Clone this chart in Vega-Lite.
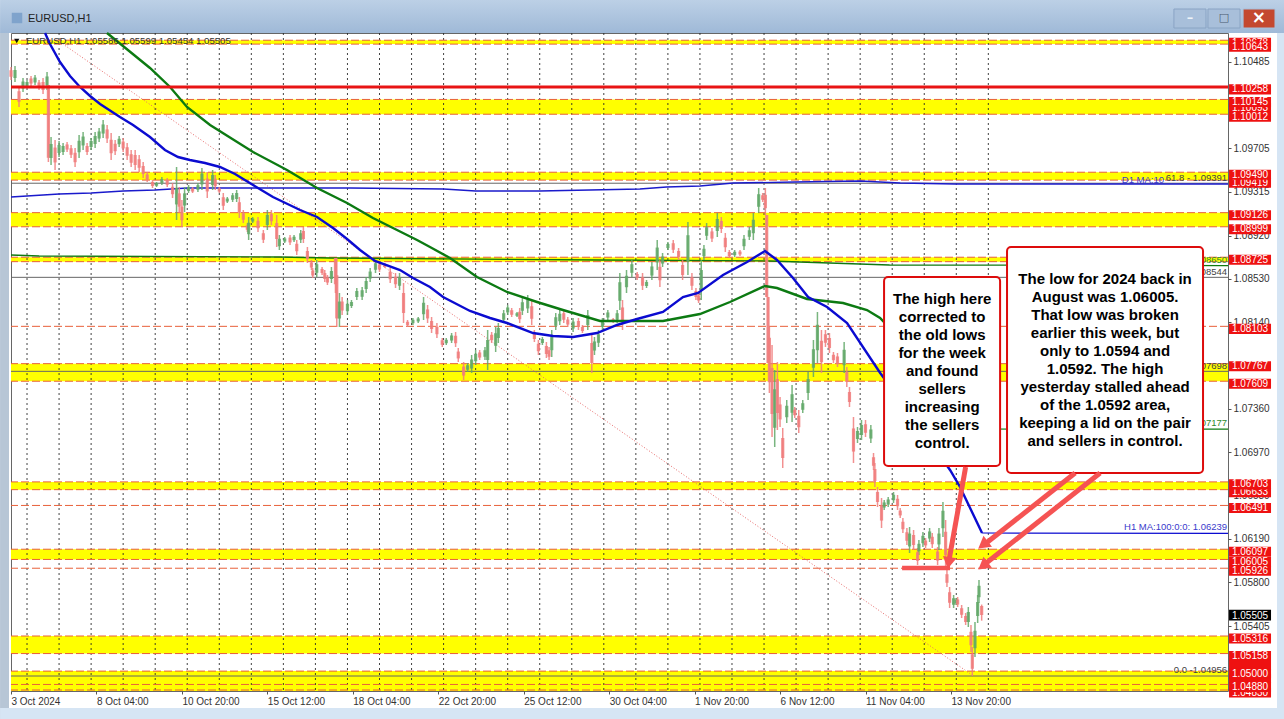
{"$schema":"https://vega.github.io/schema/vega-lite/v6.json","width":1217,"height":658,"autosize":{"type":"none"},"padding":{"left":11,"top":33,"right":56,"bottom":28},"background":"white","view":{"stroke":"#666","strokeWidth":1},"config":{"text":{"font":"Liberation Sans"},"axis":{"grid":false}},"data":{"values":[{}]},
"datasets":{
"bands":[{"a":1.10678,"z":1.10643},{"a":1.10145,"z":1.10012},{"a":1.0949,"z":1.09419},{"a":1.09126,"z":1.08999},{"a":1.08725,"z":1.08685},{"a":1.07767,"z":1.07609},{"a":1.06703,"z":1.06633},{"a":1.06097,"z":1.06005},{"a":1.05316,"z":1.05158},{"a":1.05,"z":1.04821}],
"levels":[{"p":1.10678},{"p":1.10643},{"p":1.10145},{"p":1.10012},{"p":1.0949},{"p":1.09419},{"p":1.09126},{"p":1.08999},{"p":1.08725},{"p":1.08685},{"p":1.08103},{"p":1.07767},{"p":1.07609},{"p":1.06703},{"p":1.06633},{"p":1.06491},{"p":1.06097},{"p":1.06005},{"p":1.05926},{"p":1.05316},{"p":1.05158},{"p":1.05},{"p":1.0488},{"p":1.0483}],
"grid":[{"b":12},{"b":36},{"b":60},{"b":84},{"b":108},{"b":132},{"b":156},{"b":180},{"b":204},{"b":228},{"b":252},{"b":276},{"b":300},{"b":324},{"b":348},{"b":372},{"b":396},{"b":420},{"b":444},{"b":468},{"b":492},{"b":516},{"b":540},{"b":564},{"b":588},{"b":612},{"b":636},{"b":660},{"b":684},{"b":708},{"b":732}],
"thin":[{"p":1.09391},{"p":1.08544},{"p":1.07698},{"p":1.04956}],
"fib":[{"b":36.7,"p":1.10662},{"b":719.8,"p":1.04965}],
"d1blue":[{"b":0,"p":1.09267},{"b":12,"p":1.09276},{"b":36,"p":1.09294},{"b":60,"p":1.09303},{"b":84,"p":1.09321},{"b":108,"p":1.0933},{"b":132,"p":1.09348},{"b":254,"p":1.09348},{"b":324,"p":1.09339},{"b":348,"p":1.09321},{"b":396,"p":1.09321},{"b":471,"p":1.09339},{"b":491,"p":1.09357},{"b":516,"p":1.09366},{"b":541,"p":1.09393},{"b":587,"p":1.09402},{"b":636,"p":1.09411},{"b":666,"p":1.09393},{"b":707,"p":1.09384},{"b":911.5,"p":1.09384}],
"d1green":[{"b":0,"p":1.08745},{"b":21,"p":1.08736},{"b":201,"p":1.08727},{"b":239,"p":1.08718},{"b":441,"p":1.087},{"b":568,"p":1.08691},{"b":613,"p":1.08673},{"b":658,"p":1.08655},{"b":911.5,"p":1.0865}],
"flatBlue":[{"b":727.3,"p":1.06243},{"b":911.5,"p":1.06239}],
"flatGreen":[{"b":729.5,"p":1.07179},{"b":911.5,"p":1.07177}],
"ma100":[{"b":25.5,"p":1.10743},{"b":29.2,"p":1.10644},{"b":36.7,"p":1.10482},{"b":44.2,"p":1.10356},{"b":51.7,"p":1.10257},{"b":59.2,"p":1.10176},{"b":66.7,"p":1.10104},{"b":81.6,"p":1.09987},{"b":91.4,"p":1.09915},{"b":104.1,"p":1.09807},{"b":115.3,"p":1.0969},{"b":125.1,"p":1.09627},{"b":134,"p":1.096},{"b":145.3,"p":1.09573},{"b":156.5,"p":1.09537},{"b":167.8,"p":1.09474},{"b":181.3,"p":1.09375},{"b":196.2,"p":1.09267},{"b":216.5,"p":1.0915},{"b":229.2,"p":1.09087},{"b":241.2,"p":1.08988},{"b":251.7,"p":1.08889},{"b":261.4,"p":1.0879},{"b":272.6,"p":1.08691},{"b":291.4,"p":1.0861},{"b":301.1,"p":1.08538},{"b":313.8,"p":1.08457},{"b":323.6,"p":1.08367},{"b":343.8,"p":1.08241},{"b":358.8,"p":1.08178},{"b":371.5,"p":1.08133},{"b":391,"p":1.08043},{"b":406,"p":1.08016},{"b":421,"p":1.08007},{"b":438.9,"p":1.08043},{"b":453.9,"p":1.08115},{"b":468.9,"p":1.08169},{"b":488.3,"p":1.08232},{"b":503.3,"p":1.08367},{"b":514.6,"p":1.08403},{"b":533.3,"p":1.08565},{"b":551.3,"p":1.08682},{"b":564.7,"p":1.08781},{"b":573.7,"p":1.087},{"b":585.7,"p":1.08538},{"b":597,"p":1.08367},{"b":611.2,"p":1.08277},{"b":626.2,"p":1.08133},{"b":651,"p":1.07683},{"b":677,"p":1.0726},{"b":703.3,"p":1.0681},{"b":710.8,"p":1.06657},{"b":727.3,"p":1.06243}],
"ma200":[{"b":71.9,"p":1.10743},{"b":104.1,"p":1.10428},{"b":119.1,"p":1.10257},{"b":131.8,"p":1.10077},{"b":149.1,"p":1.09915},{"b":181.3,"p":1.09672},{"b":206.7,"p":1.0951},{"b":229.2,"p":1.09348},{"b":251.7,"p":1.09213},{"b":271.1,"p":1.09078},{"b":304.1,"p":1.0888},{"b":313.8,"p":1.08817},{"b":328.8,"p":1.08718},{"b":349,"p":1.08547},{"b":371.5,"p":1.08412},{"b":394,"p":1.08322},{"b":413.4,"p":1.0825},{"b":441.2,"p":1.08151},{"b":463.6,"p":1.08151},{"b":488.3,"p":1.08151},{"b":516,"p":1.08214},{"b":538.5,"p":1.08322},{"b":564.7,"p":1.08466},{"b":573.7,"p":1.08448},{"b":596.2,"p":1.08349},{"b":623.2,"p":1.08313},{"b":641.1,"p":1.0825},{"b":650.9,"p":1.08178},{"b":729.5,"p":1.07179}],
"candles":[
{"b":0,"h":1.10437,"l":1.1032,"o":1.10408,"c":1.10349},{"b":3,"h":1.10446,"l":1.10302,"o":1.10338,"c":1.1041},{"b":6,"h":1.10266,"l":1.10077,"o":1.10219,"c":1.10124},{"b":9,"h":1.10338,"l":1.10212,"o":1.10244,"c":1.10306},{"b":12,"h":1.1032,"l":1.10248,"o":1.10266,"c":1.10302},{"b":15,"h":1.10356,"l":1.10266,"o":1.10334,"c":1.10288},{"b":18,"h":1.10365,"l":1.10275,"o":1.10298,"c":1.10342},{"b":21,"h":1.1032,"l":1.1023,"o":1.10298,"c":1.10252},{"b":24,"h":1.10338,"l":1.10194,"o":1.10302,"c":1.1023},{"b":27,"h":1.10392,"l":1.1023,"o":1.1027,"c":1.10352},{"b":28,"h":1.10275,"l":1.09582,"o":1.10275,"c":1.0962},
{"b":30,"h":1.09807,"l":1.09555,"o":1.09618,"c":1.09744},{"b":33,"h":1.0978,"l":1.0951,"o":1.09712,"c":1.09578},{"b":36,"h":1.09771,"l":1.09627,"o":1.09663,"c":1.09735},{"b":39,"h":1.09753,"l":1.09645,"o":1.09672,"c":1.09726},{"b":42,"h":1.09762,"l":1.09672,"o":1.0974,"c":1.09694},{"b":45,"h":1.09735,"l":1.09618,"o":1.09706,"c":1.09647},{"b":48,"h":1.09708,"l":1.09537,"o":1.09665,"c":1.0958},{"b":51,"h":1.09825,"l":1.09618,"o":1.0967,"c":1.09773},{"b":54,"h":1.09852,"l":1.0969,"o":1.09731,"c":1.09811},{"b":57,"h":1.09753,"l":1.09645,"o":1.09726,"c":1.09672},{"b":60,"h":1.09798,"l":1.0969,"o":1.09717,"c":1.09771},{"b":63,"h":1.09852,"l":1.09708,"o":1.09744,"c":1.09816},{"b":66,"h":1.09888,"l":1.09762,"o":1.09793,"c":1.09857},{"b":69,"h":1.0996,"l":1.09798,"o":1.09838,"c":1.0992},{"b":72,"h":1.09915,"l":1.09753,"o":1.09875,"c":1.09793},{"b":75,"h":1.09843,"l":1.096,"o":1.09782,"c":1.09661},{"b":78,"h":1.0978,"l":1.09645,"o":1.09746,"c":1.09679},{"b":81,"h":1.09816,"l":1.09717,"o":1.09742,"c":1.09791},{"b":84,"h":1.09798,"l":1.09672,"o":1.09766,"c":1.09704},{"b":87,"h":1.09753,"l":1.096,"o":1.09715,"c":1.09638},{"b":90,"h":1.0969,"l":1.09537,"o":1.09652,"c":1.09575},{"b":93,"h":1.0969,"l":1.0951,"o":1.09645,"c":1.09555},{"b":96,"h":1.09645,"l":1.09492,"o":1.09607,"c":1.0953},{"b":99,"h":1.09582,"l":1.09438,"o":1.09546,"c":1.09474},{"b":102,"h":1.09492,"l":1.09402,"o":1.0947,"c":1.09424},{"b":106,"h":1.0942,"l":1.09348,"o":1.09402,"c":1.09366},{"b":109,"h":1.09402,"l":1.09357,"o":1.09368,"c":1.09391},{"b":113,"h":1.09447,"l":1.09375,"o":1.09393,"c":1.09429},{"b":117,"h":1.09438,"l":1.09357,"o":1.09418,"c":1.09377},{"b":121,"h":1.09393,"l":1.09258,"o":1.09359,"c":1.09292},{"b":124,"h":1.09537,"l":1.0906,"o":1.092,"c":1.0935},{"b":126,"h":1.09357,"l":1.09123,"o":1.093,"c":1.0918},{"b":128,"h":1.0924,"l":1.08997,"o":1.0918,"c":1.09058},{"b":130,"h":1.09357,"l":1.09132,"o":1.0919,"c":1.093},{"b":133,"h":1.09375,"l":1.09303,"o":1.09321,"c":1.09357},{"b":136,"h":1.09357,"l":1.09303,"o":1.09344,"c":1.09316},{"b":140,"h":1.09393,"l":1.09312,"o":1.09332,"c":1.09373},{"b":143,"h":1.09528,"l":1.0933,"o":1.0938,"c":1.09478},{"b":147,"h":1.09492,"l":1.09258,"o":1.09433,"c":1.09317},{"b":151,"h":1.0951,"l":1.0933,"o":1.09375,"c":1.09465},{"b":153,"h":1.09465,"l":1.0933,"o":1.09431,"c":1.09364},{"b":156,"h":1.09357,"l":1.09303,"o":1.09344,"c":1.09316},{"b":159,"h":1.09303,"l":1.0915,"o":1.09265,"c":1.09188},{"b":162,"h":1.09267,"l":1.09213,"o":1.09226,"c":1.09253},{"b":166,"h":1.09303,"l":1.09222,"o":1.09242,"c":1.09283},{"b":169,"h":1.0933,"l":1.09222,"o":1.09249,"c":1.09303},{"b":171,"h":1.09267,"l":1.09078,"o":1.0922,"c":1.09125},{"b":174,"h":1.0915,"l":1.09033,"o":1.09121,"c":1.09062},{"b":177,"h":1.09033,"l":1.08952,"o":1.09013,"c":1.08972},{"b":178,"h":1.09087,"l":1.0888,"o":1.08932,"c":1.09035},{"b":181,"h":1.09087,"l":1.09033,"o":1.09046,"c":1.09073},{"b":185,"h":1.09087,"l":1.08952,"o":1.09053,"c":1.08986},{"b":189,"h":1.0897,"l":1.08853,"o":1.08941,"c":1.08882},{"b":192,"h":1.0915,"l":1.0897,"o":1.09015,"c":1.09105},{"b":195,"h":1.0915,"l":1.09015,"o":1.09116,"c":1.09049},{"b":199,"h":1.09105,"l":1.08817,"o":1.09033,"c":1.08889},{"b":201,"h":1.08925,"l":1.0879,"o":1.08824,"c":1.08891},{"b":205,"h":1.08907,"l":1.08853,"o":1.08866,"c":1.08894},{"b":209,"h":1.08925,"l":1.08835,"o":1.08902,"c":1.08858},{"b":212,"h":1.08925,"l":1.08862,"o":1.08878,"c":1.08909},{"b":214,"h":1.0888,"l":1.08745,"o":1.08846,"c":1.08779},{"b":217,"h":1.0897,"l":1.08853,"o":1.08882,"c":1.08941},{"b":219,"h":1.08997,"l":1.08853,"o":1.08961,"c":1.08889},{"b":222,"h":1.08817,"l":1.08673,"o":1.08781,"c":1.08709},{"b":225,"h":1.087,"l":1.0861,"o":1.08678,"c":1.08632},{"b":226,"h":1.08628,"l":1.08538,"o":1.08606,"c":1.0856},{"b":229,"h":1.087,"l":1.08547,"o":1.08585,"c":1.08662},{"b":233,"h":1.08637,"l":1.08565,"o":1.08619,"c":1.08583},{"b":235,"h":1.0861,"l":1.08502,"o":1.08583,"c":1.08529},{"b":237,"h":1.08565,"l":1.08475,"o":1.08543,"c":1.08497},{"b":240,"h":1.08637,"l":1.08493,"o":1.08529,"c":1.08601},{"b":243,"h":1.08718,"l":1.08403,"o":1.08718,"c":1.08482},{"b":244,"h":1.08718,"l":1.08097,"o":1.08563,"c":1.08174},{"b":246,"h":1.08403,"l":1.08097,"o":1.08173,"c":1.08326},{"b":248,"h":1.08367,"l":1.08205,"o":1.08326,"c":1.08245},{"b":252,"h":1.0834,"l":1.08205,"o":1.08239,"c":1.08306},{"b":255,"h":1.0834,"l":1.08268,"o":1.08286,"c":1.08322},{"b":259,"h":1.08448,"l":1.0834,"o":1.08367,"c":1.08421},{"b":263,"h":1.08457,"l":1.0834,"o":1.08369,"c":1.08428},{"b":266,"h":1.08547,"l":1.08403,"o":1.08439,"c":1.08511},{"b":269,"h":1.08628,"l":1.08502,"o":1.08533,"c":1.08596},{"b":273,"h":1.087,"l":1.08583,"o":1.08612,"c":1.08671},{"b":276,"h":1.08682,"l":1.08592,"o":1.0866,"c":1.08614},{"b":280,"h":1.08673,"l":1.08628,"o":1.08662,"c":1.08639},{"b":284,"h":1.08628,"l":1.08493,"o":1.08594,"c":1.08527},{"b":288,"h":1.08583,"l":1.08448,"o":1.08549,"c":1.08482},{"b":291,"h":1.08583,"l":1.0843,"o":1.08468,"c":1.08545},{"b":294,"h":1.08493,"l":1.08133,"o":1.08403,"c":1.08223},{"b":297,"h":1.0816,"l":1.08097,"o":1.08144,"c":1.08113},{"b":301,"h":1.08178,"l":1.08115,"o":1.08131,"c":1.08162},{"b":305,"h":1.08187,"l":1.08133,"o":1.08147,"c":1.08174},{"b":309,"h":1.08367,"l":1.0816,"o":1.08212,"c":1.08315},{"b":312,"h":1.08295,"l":1.08133,"o":1.08255,"c":1.08174},{"b":315,"h":1.08187,"l":1.08043,"o":1.08151,"c":1.08079},{"b":319,"h":1.08133,"l":1.07998,"o":1.08099,"c":1.08032},{"b":323,"h":1.07998,"l":1.07917,"o":1.07978,"c":1.07937},{"b":326,"h":1.07998,"l":1.07935,"o":1.07951,"c":1.07982},{"b":330,"h":1.08043,"l":1.07953,"o":1.07975,"c":1.08021},{"b":333,"h":1.08052,"l":1.07917,"o":1.08018,"c":1.07951},{"b":335,"h":1.07908,"l":1.07782,"o":1.07876,"c":1.07814},{"b":339,"h":1.07782,"l":1.0762,"o":1.07741,"c":1.0766},{"b":342,"h":1.07773,"l":1.07692,"o":1.07712,"c":1.07753},{"b":345,"h":1.07845,"l":1.07683,"o":1.07723,"c":1.07805},{"b":348,"h":1.0789,"l":1.07755,"o":1.07789,"c":1.07856},{"b":351,"h":1.0789,"l":1.078,"o":1.07868,"c":1.07822},{"b":355,"h":1.07917,"l":1.078,"o":1.07829,"c":1.07888},{"b":357,"h":1.0807,"l":1.0771,"o":1.078,"c":1.0798},{"b":360,"h":1.08052,"l":1.07953,"o":1.08027,"c":1.07978},{"b":363,"h":1.08097,"l":1.07872,"o":1.07928,"c":1.08041},{"b":365,"h":1.08133,"l":1.07953,"o":1.07998,"c":1.08088},{"b":369,"h":1.0825,"l":1.08133,"o":1.08162,"c":1.08221},{"b":372,"h":1.08295,"l":1.08205,"o":1.08228,"c":1.08273},{"b":375,"h":1.08268,"l":1.08187,"o":1.08248,"c":1.08207},{"b":379,"h":1.08232,"l":1.08187,"o":1.08198,"c":1.08221},{"b":381,"h":1.08268,"l":1.08133,"o":1.08234,"c":1.08167},{"b":383,"h":1.08358,"l":1.08205,"o":1.08243,"c":1.0832},{"b":387,"h":1.08385,"l":1.08223,"o":1.08264,"c":1.08345},{"b":390,"h":1.0834,"l":1.08115,"o":1.08284,"c":1.08171},{"b":392,"h":1.0807,"l":1.07962,"o":1.08043,"c":1.07989},{"b":395,"h":1.0798,"l":1.07845,"o":1.07946,"c":1.07879},{"b":398,"h":1.08007,"l":1.07935,"o":1.07953,"c":1.07989},{"b":401,"h":1.07962,"l":1.07818,"o":1.07926,"c":1.07854},{"b":403,"h":1.07917,"l":1.078,"o":1.07888,"c":1.07829},{"b":405,"h":1.0807,"l":1.07827,"o":1.07888,"c":1.08009},{"b":408,"h":1.08223,"l":1.0807,"o":1.08108,"c":1.08185},{"b":411,"h":1.0825,"l":1.08115,"o":1.08149,"c":1.08216},{"b":414,"h":1.0825,"l":1.08133,"o":1.08221,"c":1.08162},{"b":417,"h":1.08187,"l":1.08097,"o":1.08164,"c":1.08119},{"b":421,"h":1.08178,"l":1.08052,"o":1.08083,"c":1.08146},{"b":425,"h":1.08178,"l":1.0807,"o":1.08151,"c":1.08097},{"b":428,"h":1.08115,"l":1.08043,"o":1.08097,"c":1.08061},{"b":432,"h":1.0825,"l":1.0807,"o":1.08115,"c":1.08205},{"b":435,"h":1.08043,"l":1.07683,"o":1.07953,"c":1.07773},{"b":437,"h":1.08007,"l":1.07845,"o":1.07885,"c":1.07967},{"b":440,"h":1.0807,"l":1.07917,"o":1.07955,"c":1.08032},{"b":443,"h":1.08178,"l":1.0807,"o":1.08097,"c":1.08151},{"b":447,"h":1.0825,"l":1.0816,"o":1.08182,"c":1.08228},{"b":451,"h":1.08178,"l":1.08133,"o":1.08167,"c":1.08144},{"b":454,"h":1.0825,"l":1.08133,"o":1.08162,"c":1.08221},{"b":456,"h":1.08583,"l":1.0825,"o":1.08333,"c":1.085},{"b":458,"h":1.0834,"l":1.0807,"o":1.08273,"c":1.08138},{"b":461,"h":1.0861,"l":1.08403,"o":1.08455,"c":1.08558},{"b":465,"h":1.087,"l":1.08547,"o":1.08585,"c":1.08662},{"b":469,"h":1.08592,"l":1.0852,"o":1.08574,"c":1.08538},{"b":473,"h":1.08583,"l":1.0843,"o":1.08545,"c":1.08468},{"b":476,"h":1.0852,"l":1.08448,"o":1.08466,"c":1.08502},{"b":480,"h":1.08682,"l":1.0852,"o":1.0856,"c":1.08642},{"b":484,"h":1.0888,"l":1.0861,"o":1.08677,"c":1.08812},{"b":486,"h":1.087,"l":1.08457,"o":1.08639,"c":1.08518},{"b":488,"h":1.08763,"l":1.08637,"o":1.08668,"c":1.08731},{"b":492,"h":1.08862,"l":1.0879,"o":1.08808,"c":1.08844},{"b":496,"h":1.0888,"l":1.08763,"o":1.08851,"c":1.08792},{"b":500,"h":1.08808,"l":1.087,"o":1.08781,"c":1.08727},{"b":503,"h":1.087,"l":1.0852,"o":1.08655,"c":1.08565},{"b":507,"h":1.09042,"l":1.08565,"o":1.08684,"c":1.08923},{"b":510,"h":1.08583,"l":1.0843,"o":1.08545,"c":1.08468},{"b":513,"h":1.08448,"l":1.0834,"o":1.08421,"c":1.08367},{"b":515,"h":1.08403,"l":1.08313,"o":1.08381,"c":1.08335},{"b":517,"h":1.087,"l":1.0834,"o":1.0843,"c":1.0861},{"b":519,"h":1.08835,"l":1.087,"o":1.08734,"c":1.08801},{"b":521,"h":1.09033,"l":1.0888,"o":1.08918,"c":1.08995},{"b":525,"h":1.08988,"l":1.08862,"o":1.08957,"c":1.08893},{"b":529,"h":1.09123,"l":1.08907,"o":1.08961,"c":1.09069},{"b":532,"h":1.09087,"l":1.08943,"o":1.09051,"c":1.08979},{"b":535,"h":1.08943,"l":1.08772,"o":1.089,"c":1.08815},{"b":538,"h":1.0879,"l":1.08718,"o":1.08772,"c":1.08736},{"b":542,"h":1.0879,"l":1.08727,"o":1.08743,"c":1.08774},{"b":546,"h":1.0879,"l":1.08736,"o":1.08776,"c":1.0875},{"b":549,"h":1.08925,"l":1.0879,"o":1.08824,"c":1.08891},{"b":553,"h":1.08997,"l":1.0888,"o":1.08909,"c":1.08968},{"b":556,"h":1.09123,"l":1.0888,"o":1.08941,"c":1.09062},{"b":560,"h":1.09348,"l":1.09123,"o":1.09179,"c":1.09292},{"b":563,"h":1.09303,"l":1.09222,"o":1.09283,"c":1.09242},{"b":565,"h":1.09348,"l":1.09105,"o":1.09287,"c":1.09166},{"b":566,"h":1.09105,"l":1.08367,"o":1.09105,"c":1.08367},{"b":567,"h":1.08367,"l":1.07773,"o":1.08367,"c":1.07773},{"b":568,"h":1.08097,"l":1.07503,"o":1.08,"c":1.076},{"b":570,"h":1.07935,"l":1.07107,"o":1.07728,"c":1.07314},{"b":572,"h":1.0771,"l":1.07017,"o":1.0719,"c":1.07537},{"b":574,"h":1.07782,"l":1.0717,"o":1.07629,"c":1.07323},{"b":576,"h":1.07467,"l":1.07197,"o":1.074,"c":1.07265},{"b":578,"h":1.07188,"l":1.06828,"o":1.07098,"c":1.06918},{"b":581,"h":1.0744,"l":1.07233,"o":1.07285,"c":1.07388},{"b":585,"h":1.07575,"l":1.07242,"o":1.07325,"c":1.07492},{"b":587,"h":1.07377,"l":1.07278,"o":1.07352,"c":1.07303},{"b":590,"h":1.0735,"l":1.07143,"o":1.07298,"c":1.07195},{"b":593,"h":1.0744,"l":1.07323,"o":1.07352,"c":1.07411},{"b":597,"h":1.07692,"l":1.0744,"o":1.07503,"c":1.07629},{"b":601,"h":1.0798,"l":1.07647,"o":1.0773,"c":1.07897},{"b":604,"h":1.08232,"l":1.07773,"o":1.07888,"c":1.08117},{"b":607,"h":1.0807,"l":1.07683,"o":1.07973,"c":1.0778},{"b":610,"h":1.0807,"l":1.07917,"o":1.08032,"c":1.07955},{"b":613,"h":1.08043,"l":1.07863,"o":1.07998,"c":1.07908},{"b":616,"h":1.07872,"l":1.07773,"o":1.07847,"c":1.07798},{"b":619,"h":1.07863,"l":1.07737,"o":1.07832,"c":1.07768},{"b":624,"h":1.07962,"l":1.07683,"o":1.07753,"c":1.07892},{"b":626,"h":1.07737,"l":1.07557,"o":1.07692,"c":1.07602},{"b":628,"h":1.07557,"l":1.07377,"o":1.07512,"c":1.07422},{"b":631,"h":1.07287,"l":1.06873,"o":1.07184,"c":1.06976},{"b":634,"h":1.07197,"l":1.07053,"o":1.07089,"c":1.07161},{"b":637,"h":1.0726,"l":1.0708,"o":1.07125,"c":1.07215},{"b":640,"h":1.0726,"l":1.07107,"o":1.07222,"c":1.07145},{"b":644,"h":1.07215,"l":1.07053,"o":1.07093,"c":1.07175},{"b":646,"h":1.06963,"l":1.0681,"o":1.06925,"c":1.06848},{"b":647,"h":1.06873,"l":1.06657,"o":1.06819,"c":1.06711},{"b":649,"h":1.06657,"l":1.06477,"o":1.06612,"c":1.06522},{"b":652,"h":1.06558,"l":1.06288,"o":1.06491,"c":1.06355},{"b":654,"h":1.0654,"l":1.0645,"o":1.06472,"c":1.06518},{"b":657,"h":1.06567,"l":1.06477,"o":1.06499,"c":1.06545},{"b":661,"h":1.06612,"l":1.06513,"o":1.06538,"c":1.06587},{"b":664,"h":1.06585,"l":1.0645,"o":1.06551,"c":1.06484},{"b":666,"h":1.06468,"l":1.06378,"o":1.06445,"c":1.06401},{"b":668,"h":1.06378,"l":1.06243,"o":1.06344,"c":1.06277},{"b":671,"h":1.06288,"l":1.06135,"o":1.0625,"c":1.06173},{"b":673,"h":1.06297,"l":1.06063,"o":1.06122,"c":1.06238},{"b":676,"h":1.0627,"l":1.0609,"o":1.06225,"c":1.06135},{"b":679,"h":1.06108,"l":1.05955,"o":1.0607,"c":1.05993},{"b":680,"h":1.0618,"l":1.06045,"o":1.06079,"c":1.06146},{"b":683,"h":1.06252,"l":1.06117,"o":1.06151,"c":1.06218},{"b":685,"h":1.06198,"l":1.06108,"o":1.06175,"c":1.06131},{"b":688,"h":1.06288,"l":1.06162,"o":1.06193,"c":1.06257},{"b":690,"h":1.06243,"l":1.06108,"o":1.06209,"c":1.06142},{"b":694,"h":1.06117,"l":1.05955,"o":1.06076,"c":1.05995},{"b":695,"h":1.06288,"l":1.0609,"o":1.0614,"c":1.06238},{"b":698,"h":1.06522,"l":1.06207,"o":1.06286,"c":1.06443},{"b":700,"h":1.0636,"l":1.05937,"o":1.06254,"c":1.06043},{"b":701,"h":1.0591,"l":1.05757,"o":1.05872,"c":1.05795},{"b":703,"h":1.05757,"l":1.05568,"o":1.0571,"c":1.05615},{"b":706,"h":1.05685,"l":1.05568,"o":1.05597,"c":1.05656},{"b":708,"h":1.05658,"l":1.05595,"o":1.05611,"c":1.05642},{"b":709,"h":1.05667,"l":1.05577,"o":1.05645,"c":1.05599},{"b":712,"h":1.05595,"l":1.05478,"o":1.05566,"c":1.05507},{"b":715,"h":1.05523,"l":1.05415,"o":1.05496,"c":1.05442},{"b":717,"h":1.05577,"l":1.05397,"o":1.05442,"c":1.05532},{"b":719,"h":1.05415,"l":1.05172,"o":1.05354,"c":1.05233},{"b":720,"h":1.05217,"l":1.04956,"o":1.05152,"c":1.05021},{"b":722,"h":1.05442,"l":1.05127,"o":1.05206,"c":1.05363},{"b":724,"h":1.05685,"l":1.05433,"o":1.05496,"c":1.05622},{"b":725,"h":1.0582,"l":1.05613,"o":1.05665,"c":1.05768},{"b":727,"h":1.05599,"l":1.05454,"o":1.05586,"c":1.05505}],
"notes":[{"t":"61.8 - 1.09391","b":910.8,"p":1.09438,"k":"gray"},{"t":"1.08650","b":910.8,"p":1.087,"k":"green"},{"t":"1.08544","b":910.8,"p":1.08592,"k":"gray"},{"t":"1.07698","b":910.8,"p":1.07746,"k":"gray"},{"t":"1.07177","b":910.8,"p":1.07233,"k":"green"},{"t":"H1 MA:100:0:0: 1.06239","b":910.8,"p":1.06297,"k":"blue"},{"t":"0.0 -1.04956","b":910.8,"p":1.0501,"k":"gray"},{"t":"D1 MA:10","b":863.6,"p":1.0942,"k":"blue"}],
"boxes":[{"b0":653.9,"b1":740.8,"a":1.08547,"z":1.06846},{"b0":746,"b1":892.8,"a":1.08817,"z":1.06783}],
"boxtext":[{"b":697.4,"p":1.08349,"t":"The high here\ncorrected to\nthe old lows\nfor the week\nand found\nsellers\nincreasing\nthe sellers\ncontrol."},{"b":819.4,"p":1.08529,"t":"The low for 2024 back in\nAugust was 1.06005.\nThat low was broken\nearlier this week, but\nonly to 1.0594 and\n1.0592. The high\nyesterday stalled ahead\nof the 1.0592 area,\nkeeping a lid on the pair\nand sellers in control."}],
"arrows":[{"id":"a","b":715,"p":1.06837},{"id":"a","b":702.6,"p":1.06},{"id":"b","b":797,"p":1.06783},{"id":"b","b":729.5,"p":1.06144},{"id":"c","b":815.7,"p":1.06783},{"id":"c","b":729.5,"p":1.05964}],
"shelf":[{"b":667.4,"p":1.05928},{"b":703.3,"p":1.05928}],
"heads":[{"b":702.6,"p":1.05991,"heading":190},{"b":729.2,"p":1.06147,"heading":232},{"b":729.2,"p":1.05958,"heading":232}],
"tagsBlank":[{"p":1.05075},{"p":1.04956}],
"tagsBack":[{"p":1.10678},{"p":1.10093},{"p":1.09419},{"p":1.06633},{"p":1.06005},{"p":1.0483}],
"tagsFront":[{"p":1.10643},{"p":1.10258},{"p":1.10145},{"p":1.10012},{"p":1.0949},{"p":1.09126},{"p":1.08999},{"p":1.08725},{"p":1.08103},{"p":1.07767},{"p":1.07609},{"p":1.06703},{"p":1.06491},{"p":1.06097},{"p":1.05926},{"p":1.05316},{"p":1.05158},{"p":1.05},{"p":1.0488}],
"tagsLast":[{"p":1.05505}]
},
"layer":[
{"mark":{"type":"rule","opacity":0},"encoding":{"x":{"datum":0,"type":"quantitative","scale":{"domain":[0,911.5]},"axis":{"title":null,"values":[0,64,128,192,256,320,384,448,512,576,640,704],"labelExpr":"['3 Oct 2024','8 Oct 04:00','10 Oct 20:00','15 Oct 12:00','18 Oct 04:00','22 Oct 20:00','25 Oct 12:00','30 Oct 04:00','1 Nov 20:00','6 Nov 12:00','11 Nov 04:00','13 Nov 20:00'][datum.value/64]","labelAlign":"left","labelFontSize":10,"labelFont":"Liberation Sans","labelColor":"#333","tickSize":3,"tickColor":"#555","domain":false,"grid":false,"labelFlush":false,"labelOverlap":false,"labelPadding":2}},"y":{"datum":1.07,"type":"quantitative","scale":{"domain":[1.04821,1.10743]},"axis":{"title":null,"orient":"right","values":[1.10485,1.09705,1.09315,1.0892,1.0853,1.0814,1.0736,1.0697,1.0658,1.0619,1.058,1.05405],"format":".5f","labelFontSize":10,"labelFont":"Liberation Sans","labelColor":"#333","tickSize":3,"tickColor":"#555","domain":false,"grid":false,"labelOverlap":false,"labelPadding":2,"labelFlush":false}}}},
{"mark":{"type":"rect","color":{"gradient":"linear","x1":0,"y1":0,"x2":0,"y2":1,"stops":[{"offset":0,"color":"#bcd0e6"},{"offset":1,"color":"#9fb9d7"}]}},"encoding":{"x":{"datum":-8.2,"scale":{"domain":[0,911.5]}},"x2":{"datum":953.5},"y":{"datum":1.1104,"scale":{"domain":[1.04821,1.10743]}},"y2":{"datum":1.10743}}},
{"mark":{"type":"rect","color":"#b7c6d6"},"encoding":{"x":{"datum":-8.2,"scale":{"domain":[0,911.5]}},"x2":{"datum":-1.5},"y":{"datum":1.10743,"scale":{"domain":[1.04821,1.10743]}},"y2":{"datum":1.0457}}},
{"mark":{"type":"rect","color":"#d6e5f4"},"encoding":{"x":{"datum":948.2,"scale":{"domain":[0,911.5]}},"x2":{"datum":953.5},"y":{"datum":1.10743,"scale":{"domain":[1.04821,1.10743]}},"y2":{"datum":1.0457}}},
{"mark":{"type":"rect","color":"#d6e5f4"},"encoding":{"x":{"datum":-8.2,"scale":{"domain":[0,911.5]}},"x2":{"datum":953.5},"y":{"datum":1.04668,"scale":{"domain":[1.04821,1.10743]}},"y2":{"datum":1.0457}}},
{"mark":{"type":"point","shape":"square","filled":true,"size":110,"opacity":1,"color":"#7fa3cc"},"encoding":{"x":{"datum":4.5,"scale":{"domain":[0,911.5]}},"y":{"datum":1.10878,"scale":{"domain":[1.04821,1.10743]}}}},
{"mark":{"type":"text","align":"left","fontSize":11,"color":"#222"},"encoding":{"x":{"datum":12.7,"scale":{"domain":[0,911.5]}},"y":{"datum":1.10872,"scale":{"domain":[1.04821,1.10743]}},"text":{"value":"EURUSD,H1"}}},
{"mark":{"type":"rect","color":"#a8bfda","stroke":"#8aa4c4"},"encoding":{"x":{"datum":871,"scale":{"domain":[0,911.5]}},"x2":{"datum":895},"y":{"datum":1.10959,"scale":{"domain":[1.04821,1.10743]}},"y2":{"datum":1.10788}}},
{"mark":{"type":"rect","color":"#a8bfda","stroke":"#8aa4c4"},"encoding":{"x":{"datum":896.5,"scale":{"domain":[0,911.5]}},"x2":{"datum":920.5},"y":{"datum":1.10959,"scale":{"domain":[1.04821,1.10743]}},"y2":{"datum":1.10788}}},
{"mark":{"type":"rect","color":"#c4482f","stroke":"#a8bfda"},"encoding":{"x":{"datum":922.8,"scale":{"domain":[0,911.5]}},"x2":{"datum":946.7},"y":{"datum":1.10959,"scale":{"domain":[1.04821,1.10743]}},"y2":{"datum":1.10788}}},
{"mark":{"type":"text","fontSize":13,"fontWeight":"bold","color":"#eef3f8","font":"DejaVu Sans"},"encoding":{"x":{"datum":883,"scale":{"domain":[0,911.5]}},"y":{"datum":1.10878,"scale":{"domain":[1.04821,1.10743]}},"text":{"value":"–"}}},
{"mark":{"type":"text","fontSize":11,"fontWeight":"bold","color":"#4a5a70","font":"DejaVu Sans"},"encoding":{"x":{"datum":908.5,"scale":{"domain":[0,911.5]}},"y":{"datum":1.10878,"scale":{"domain":[1.04821,1.10743]}},"text":{"value":"□"}}},
{"mark":{"type":"text","fontSize":17,"fontWeight":"bold","color":"white","font":"DejaVu Sans"},"encoding":{"x":{"datum":934.7,"scale":{"domain":[0,911.5]}},"y":{"datum":1.10878,"scale":{"domain":[1.04821,1.10743]}},"text":{"value":"×"}}},
{"data":{"name":"bands"},"mark":{"type":"rect","color":"#ffff00"},"encoding":{"x":{"datum":0,"scale":{"domain":[0,911.5]}},"x2":{"datum":911.5},"y":{"field":"a","type":"quantitative","scale":{"domain":[1.04821,1.10743]}},"y2":{"field":"z"}}},
{"data":{"name":"grid"},"mark":{"type":"rule","color":"#222","strokeWidth":1,"strokeDash":[2,3],"opacity":0.85},"encoding":{"x":{"field":"b","type":"quantitative","scale":{"domain":[0,911.5]}}}},
{"data":{"name":"levels"},"mark":{"type":"rule","color":"#e8603a","strokeWidth":1,"strokeDash":[8,3]},"encoding":{"y":{"field":"p","type":"quantitative","scale":{"domain":[1.04821,1.10743]}}}},
{"data":{"name":"thin"},"mark":{"type":"rule","color":"#666","strokeWidth":1},"encoding":{"y":{"field":"p","type":"quantitative","scale":{"domain":[1.04821,1.10743]}}}},
{"data":{"name":"fib"},"mark":{"type":"line","color":"#e86a6a","strokeWidth":1,"strokeDash":[1,2]},"encoding":{"x":{"field":"b","type":"quantitative","scale":{"domain":[0,911.5]}},"y":{"field":"p","type":"quantitative","scale":{"domain":[1.04821,1.10743]}}}},
{"data":{"name":"d1blue"},"mark":{"type":"line","color":"#1a1acc","strokeWidth":1.3},"encoding":{"x":{"field":"b","type":"quantitative","scale":{"domain":[0,911.5]}},"y":{"field":"p","type":"quantitative","scale":{"domain":[1.04821,1.10743]}}}},
{"data":{"name":"d1green"},"mark":{"type":"line","color":"#0f7a0f","strokeWidth":1.3},"encoding":{"x":{"field":"b","type":"quantitative","scale":{"domain":[0,911.5]}},"y":{"field":"p","type":"quantitative","scale":{"domain":[1.04821,1.10743]}}}},
{"data":{"name":"candles"},"mark":{"type":"rule","strokeWidth":1.5,"opacity":0.85},"encoding":{"x":{"field":"b","type":"quantitative","scale":{"domain":[0,911.5]}},"y":{"field":"h","type":"quantitative","scale":{"domain":[1.04821,1.10743]}},"y2":{"field":"l"},"color":{"condition":{"test":"datum.c>=datum.o","value":"#62a868"},"value":"#f07c7c"}}},
{"data":{"name":"candles"},"mark":{"type":"rule","strokeWidth":3.2,"opacity":0.85},"encoding":{"x":{"field":"b","type":"quantitative","scale":{"domain":[0,911.5]}},"y":{"field":"o","type":"quantitative","scale":{"domain":[1.04821,1.10743]}},"y2":{"field":"c"},"color":{"condition":{"test":"datum.c>=datum.o","value":"#62a868"},"value":"#f07c7c"}}},
{"data":{"name":"ma200"},"mark":{"type":"line","color":"#0c7a12","strokeWidth":2.4},"encoding":{"x":{"field":"b","type":"quantitative","scale":{"domain":[0,911.5]}},"y":{"field":"p","type":"quantitative","scale":{"domain":[1.04821,1.10743]}}}},
{"data":{"name":"flatGreen"},"mark":{"type":"line","color":"#0c7a12","strokeWidth":1.2},"encoding":{"x":{"field":"b","type":"quantitative","scale":{"domain":[0,911.5]}},"y":{"field":"p","type":"quantitative","scale":{"domain":[1.04821,1.10743]}}}},
{"data":{"name":"ma100"},"mark":{"type":"line","color":"#0b0bd0","strokeWidth":2.4},"encoding":{"x":{"field":"b","type":"quantitative","scale":{"domain":[0,911.5]}},"y":{"field":"p","type":"quantitative","scale":{"domain":[1.04821,1.10743]}}}},
{"data":{"name":"flatBlue"},"mark":{"type":"line","color":"#0b0bd0","strokeWidth":1.2},"encoding":{"x":{"field":"b","type":"quantitative","scale":{"domain":[0,911.5]}},"y":{"field":"p","type":"quantitative","scale":{"domain":[1.04821,1.10743]}}}},
{"mark":{"type":"rule","color":"#e81414","strokeWidth":3},"encoding":{"y":{"datum":1.10258,"scale":{"domain":[1.04821,1.10743]}}}},
{"mark":{"type":"point","shape":"triangle-down","filled":true,"size":28,"opacity":1,"color":"#111"},"encoding":{"x":{"datum":4.3,"scale":{"domain":[0,911.5]}},"y":{"datum":1.10671,"scale":{"domain":[1.04821,1.10743]}}}},
{"mark":{"type":"text","align":"left","fontSize":9.6,"color":"#333"},"encoding":{"x":{"datum":11.2,"scale":{"domain":[0,911.5]}},"y":{"datum":1.10671,"scale":{"domain":[1.04821,1.10743]}},"text":{"value":"EURUSD,H1  1.05586 1.05599 1.05454 1.05505"}}},
{"data":{"name":"notes"},"mark":{"type":"text","align":"right","fontSize":9.5},"encoding":{"x":{"field":"b","type":"quantitative","scale":{"domain":[0,911.5]}},"y":{"field":"p","type":"quantitative","scale":{"domain":[1.04821,1.10743]}},"text":{"field":"t"},"color":{"field":"k","type":"nominal","legend":null,"scale":{"domain":["gray","green","blue"],"range":["#444","#2e8b2e","#3a3acc"]}}}},
{"data":{"name":"boxes"},"mark":{"type":"rect","fill":"white","stroke":"#dd0c0c","strokeWidth":2,"cornerRadius":4},"encoding":{"x":{"field":"b0","type":"quantitative","scale":{"domain":[0,911.5]}},"x2":{"field":"b1"},"y":{"field":"a","type":"quantitative","scale":{"domain":[1.04821,1.10743]}},"y2":{"field":"z"}}},
{"data":{"name":"boxtext"},"mark":{"type":"text","font":"Liberation Sans","fontWeight":"bold","fontSize":15,"lineBreak":"\n","lineHeight":18,"align":"center","baseline":"middle","color":"#000"},"encoding":{"x":{"field":"b","type":"quantitative","scale":{"domain":[0,911.5]}},"y":{"field":"p","type":"quantitative","scale":{"domain":[1.04821,1.10743]}},"text":{"field":"t"}}},
{"data":{"name":"arrows"},"mark":{"type":"line","color":"#f55353","strokeWidth":5},"encoding":{"x":{"field":"b","type":"quantitative","scale":{"domain":[0,911.5]}},"y":{"field":"p","type":"quantitative","scale":{"domain":[1.04821,1.10743]}},"detail":{"field":"id"}}},
{"data":{"name":"shelf"},"mark":{"type":"line","color":"#f55353","strokeWidth":4.5},"encoding":{"x":{"field":"b","type":"quantitative","scale":{"domain":[0,911.5]}},"y":{"field":"p","type":"quantitative","scale":{"domain":[1.04821,1.10743]}}}},
{"data":{"name":"heads"},"mark":{"type":"point","shape":"triangle","filled":true,"size":190,"opacity":1,"color":"#f55353"},"encoding":{"x":{"field":"b","type":"quantitative","scale":{"domain":[0,911.5]}},"y":{"field":"p","type":"quantitative","scale":{"domain":[1.04821,1.10743]}},"angle":{"field":"heading","type":"quantitative","scale":null}}},
{"data":{"name":"tagsBlank"},"mark":{"type":"point","shape":"M-1,-0.12H1V0.36H-1Z","filled":true,"size":1764,"opacity":1,"color":"#ee1111","strokeWidth":0},"encoding":{"x":{"datum":928,"scale":{"domain":[0,911.5]}},"y":{"field":"p","type":"quantitative","scale":{"domain":[1.04821,1.10743]}}}},
{"data":{"name":"tagsBack"},"mark":{"type":"point","shape":"M-1,-0.12H1V0.36H-1Z","filled":true,"size":1764,"opacity":1,"color":"#ee1111","strokeWidth":0},"encoding":{"x":{"datum":928,"scale":{"domain":[0,911.5]}},"y":{"field":"p","type":"quantitative","scale":{"domain":[1.04821,1.10743]}}}},
{"data":{"name":"tagsBack"},"mark":{"type":"text","fontSize":10,"dy":2.5,"color":"white"},"encoding":{"x":{"datum":928,"scale":{"domain":[0,911.5]}},"y":{"field":"p","type":"quantitative","scale":{"domain":[1.04821,1.10743]}},"text":{"field":"p","type":"quantitative","format":".5f"}}},
{"data":{"name":"tagsFront"},"mark":{"type":"point","shape":"M-1,-0.12H1V0.36H-1Z","filled":true,"size":1764,"opacity":1,"color":"#ee1111","strokeWidth":0},"encoding":{"x":{"datum":928,"scale":{"domain":[0,911.5]}},"y":{"field":"p","type":"quantitative","scale":{"domain":[1.04821,1.10743]}}}},
{"data":{"name":"tagsFront"},"mark":{"type":"text","fontSize":10,"dy":2.5,"color":"white"},"encoding":{"x":{"datum":928,"scale":{"domain":[0,911.5]}},"y":{"field":"p","type":"quantitative","scale":{"domain":[1.04821,1.10743]}},"text":{"field":"p","type":"quantitative","format":".5f"}}},
{"data":{"name":"tagsLast"},"mark":{"type":"point","shape":"M-1,-0.25H1V0.26H-1Z","filled":true,"size":1764,"opacity":1,"color":"#000","strokeWidth":0},"encoding":{"x":{"datum":928,"scale":{"domain":[0,911.5]}},"y":{"field":"p","type":"quantitative","scale":{"domain":[1.04821,1.10743]}}}},
{"data":{"name":"tagsLast"},"mark":{"type":"text","fontSize":10,"dy":0.7,"color":"white"},"encoding":{"x":{"datum":928,"scale":{"domain":[0,911.5]}},"y":{"field":"p","type":"quantitative","scale":{"domain":[1.04821,1.10743]}},"text":{"field":"p","type":"quantitative","format":".5f"}}}
]}
